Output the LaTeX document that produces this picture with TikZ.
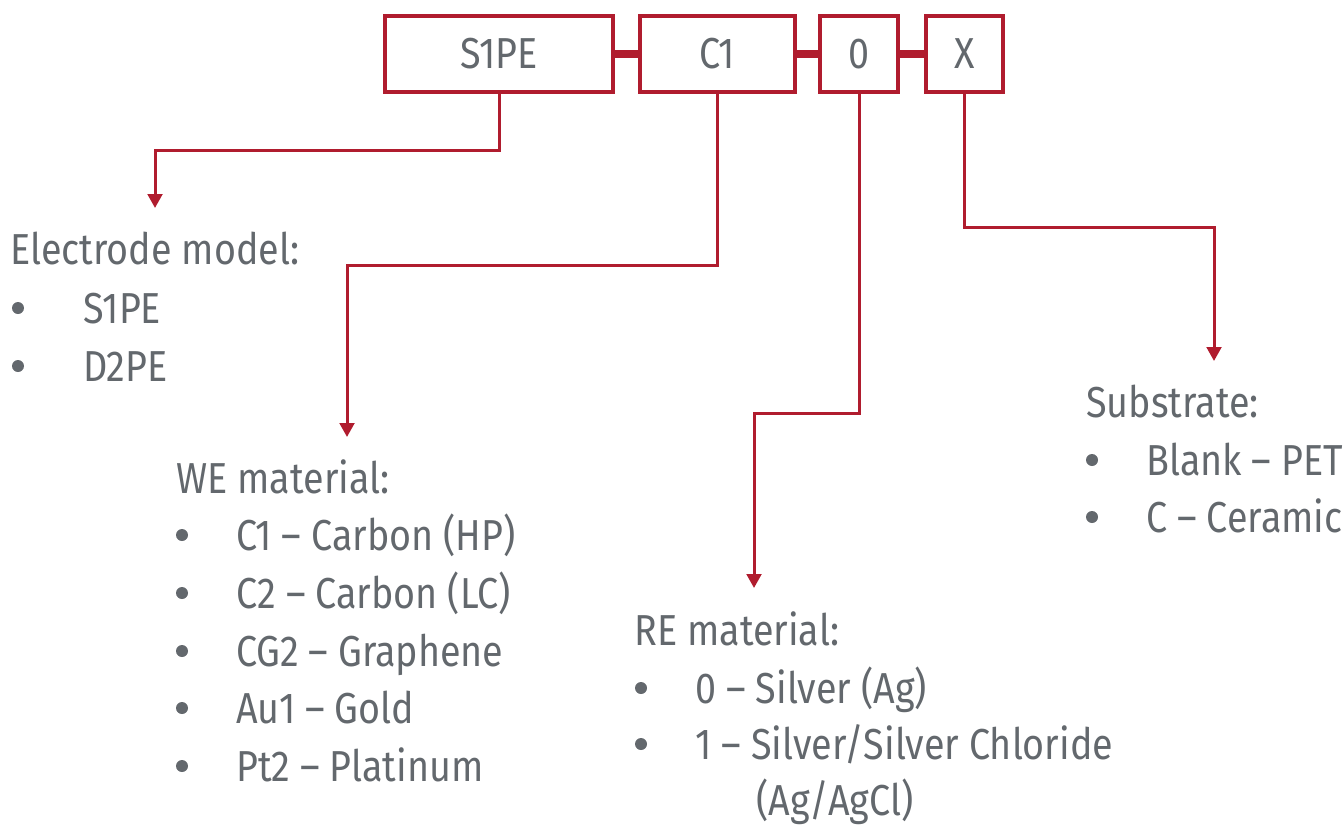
\documentclass[tikz,border=0pt]{standalone}
\usepackage{fontspec}
\setmainfont{Fira Sans}[FakeStretch=0.87]
\usetikzlibrary{arrows.meta}
\definecolor{myred}{HTML}{B01C2E}
\definecolor{mygray}{HTML}{63686D}
\begin{document}
\begin{tikzpicture}[x=0.75pt,y=-0.75pt,
  txt/.style={anchor=base west, inner sep=0pt, text=mygray, font=\fontsize{32.5}{39}\selectfont},
  codebox/.style={draw=myred, line width=3pt, minimum height=57pt, inner sep=0pt, text=mygray, font=\fontsize{32.5}{39}\selectfont},
  bar/.style={draw=myred, line width=6pt},
  arr/.style={draw=myred, line width=2.25pt, -{Triangle[width=11pt,length=10.5pt]}},
  dot/.style={fill=mygray, circle, inner sep=0pt, minimum size=9pt}]
\useasboundingbox (0,0) rectangle (1344,825);
% code boxes
\node[codebox, minimum width=171pt] (s) at (499,54) {S1PE};
\node[codebox, minimum width=116pt] (c) at (717.5,54) {C1};
\node[codebox, minimum width=58.5pt] (z) at (859,54) {0};
\node[codebox, minimum width=58pt] (x) at (964.5,54) {X};
\draw[bar] (s.east) -- (c.west);
\draw[bar] (c.east) -- (z.west);
\draw[bar] (z.east) -- (x.west);
% arrow end points
\coordinate (t1) at (155,208);
\coordinate (t2) at (347,437);
\coordinate (t3) at (754,588);
\coordinate (t4) at (1214,361);
\draw[arr] (s.south) |- (155,150) -- (t1);
\draw[arr] (c.south) |- (347,265) -- (t2);
\draw[arr] (z.south) |- (754,413) -- (t3);
\draw[arr] (x.south) |- (1214,227) -- (t4);
% Electrode model
\node[txt] (e0) at (10,264) {Electrode model:};
\node[dot] (eb1) at (18,308) {};
\node[txt] (e1) at (83,323) {S1PE};
\node[dot] (eb2) at (18,366) {};
\node[txt] (e2) at (83,381) {D2PE};
% WE material
\node[txt] (w0) at (176,493) {WE material:};
\node[dot] (wb1) at (182,535) {};
\node[txt] (w1) at (236,550) {C1 \textendash{} Carbon (HP)};
\node[dot] (wb2) at (182,593) {};
\node[txt] (w2) at (236,608) {C2 \textendash{} Carbon (LC)};
\node[dot] (wb3) at (182,651) {};
\node[txt] (w3) at (236,666) {CG2 \textendash{} Graphene};
\node[dot] (wb4) at (182,708) {};
\node[txt] (w4) at (236,723) {Au1 \textendash{} Gold};
\node[dot] (wb5) at (182,766) {};
\node[txt] (w5) at (236,781) {Pt2 \textendash{} Platinum};
% RE material
\node[txt] (r0) at (634,645) {RE material:};
\node[dot] (rb1) at (641,688) {};
\node[txt] (r1) at (695,703) {0 \textendash{} Silver (Ag)};
\node[dot] (rb2) at (641,744) {};
\node[txt] (r2) at (695,759) {1 \textendash{} Silver/Silver Chloride};
\node[txt] (r3) at (756,815) {(Ag/AgCl)};
% Substrate
\node[txt] (b0) at (1086,417) {Substrate:};
\node[dot] (bb1) at (1092,460) {};
\node[txt] (b1) at (1146,475) {Blank \textendash{} PET};
\node[dot] (bb2) at (1092,517) {};
\node[txt] (b2) at (1146,532) {C \textendash{} Ceramic};
\end{tikzpicture}
\end{document}
